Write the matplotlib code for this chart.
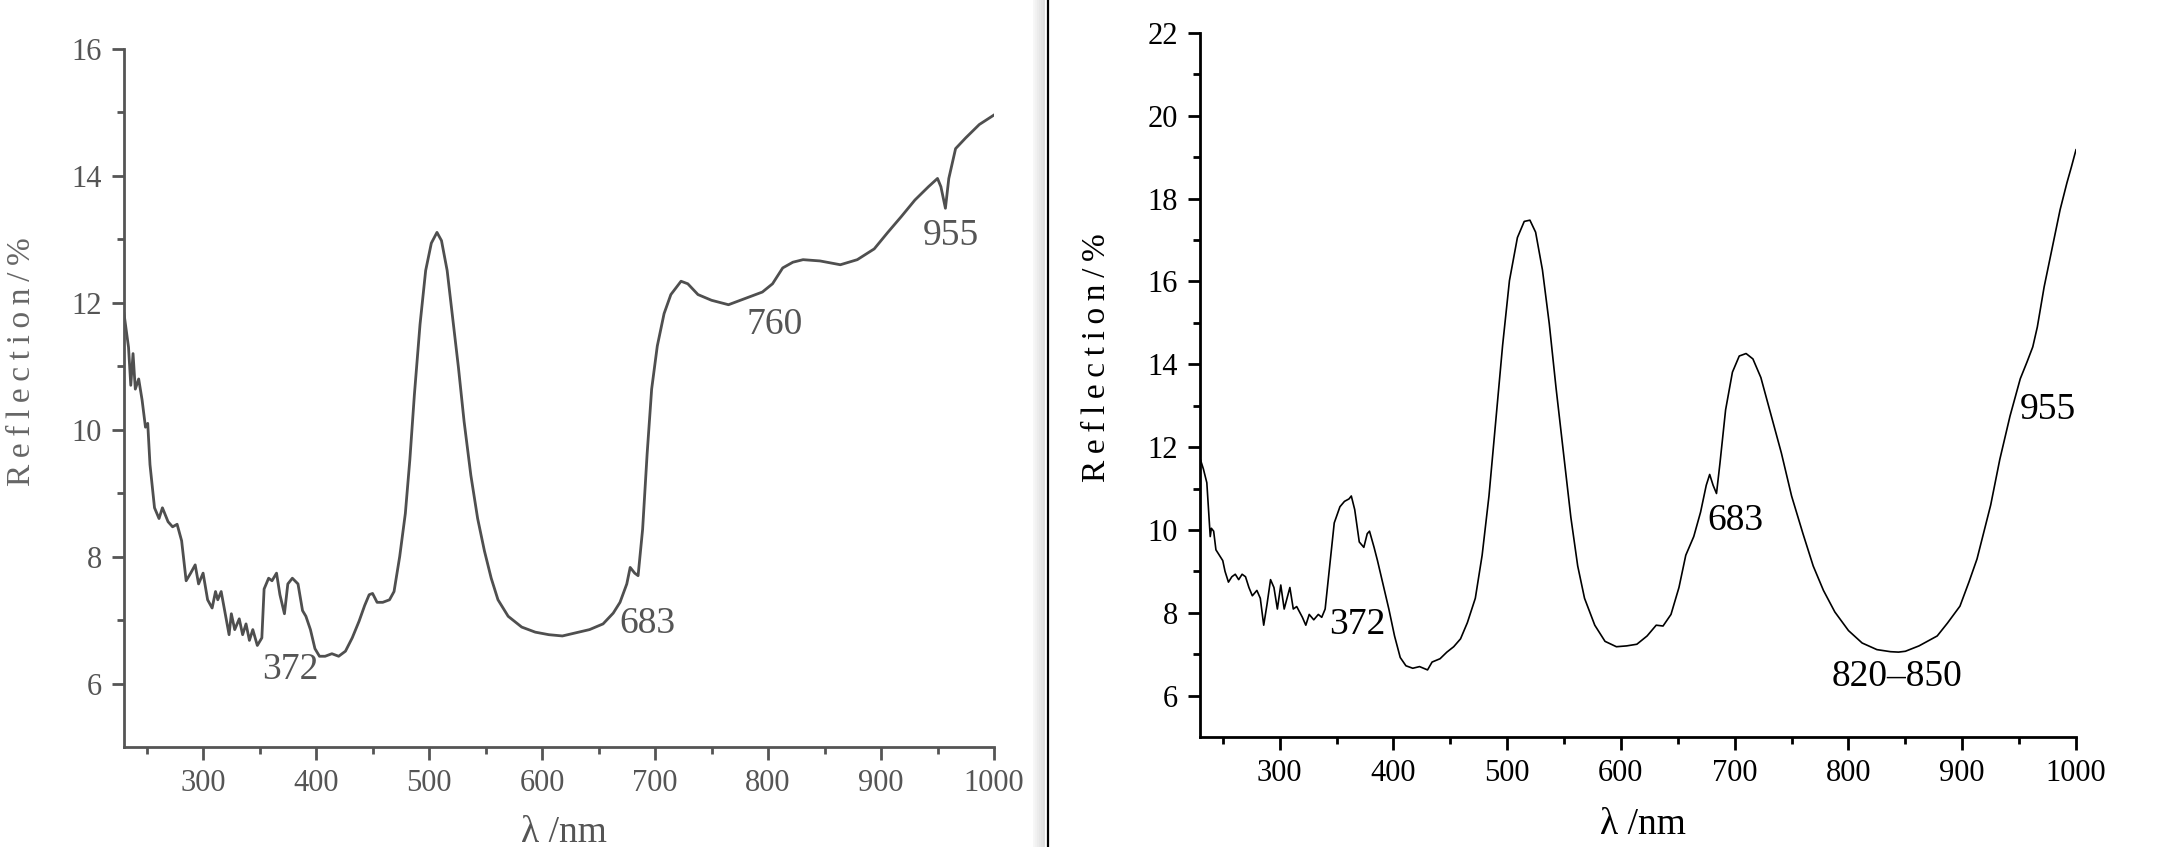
import matplotlib
matplotlib.use("Agg")
import matplotlib.pyplot as plt
from matplotlib.lines import Line2D
from matplotlib.ticker import MultipleLocator


# left spectrum (scanned, grey)
left_wl = [230, 234, 236, 238, 240, 243, 246, 249, 251, 253,
           257, 261, 264, 269, 273, 277, 281, 285, 289, 293,
           296, 300, 304, 308, 311, 313, 316, 320, 323, 325,
           328, 332, 335, 338, 341, 344, 348, 352, 354, 358,
           361, 365, 368, 372, 375, 379, 384, 388, 391, 395,
           399, 403, 408, 414, 420, 426, 432, 438, 443, 447,
           450, 454, 459, 465, 469, 474, 479, 483, 487, 492,
           497, 502, 507, 511, 516, 521, 526, 531, 537, 543,
           549, 555, 561, 570, 582, 594, 606, 618, 630, 642,
           654, 663, 669, 675, 678, 682, 685, 689, 693, 697,
           702, 708, 714, 723, 729, 738, 750, 765, 780, 795,
           804, 813, 822, 831, 846, 864, 879, 894, 906, 918,
           930, 942, 950, 953, 957, 960, 966, 975, 987, 1000]
left_refl = [11.83, 11.3, 10.7, 11.2, 10.64, 10.8, 10.47, 10.04, 10.1, 9.45,
             8.77, 8.6, 8.77, 8.55, 8.47, 8.51, 8.25, 7.62, 7.74, 7.87,
             7.57, 7.74, 7.32, 7.19, 7.45, 7.32, 7.45, 7.06, 6.77, 7.1,
             6.85, 7.02, 6.77, 6.94, 6.68, 6.85, 6.6, 6.72, 7.49, 7.66,
             7.62, 7.74, 7.4, 7.1, 7.57, 7.66, 7.57, 7.15, 7.06, 6.85,
             6.55, 6.43, 6.43, 6.47, 6.43, 6.51, 6.72, 6.98, 7.23, 7.4,
             7.42, 7.28, 7.28, 7.32, 7.45, 8.0, 8.68, 9.53, 10.55, 11.66,
             12.51, 12.94, 13.11, 12.98, 12.51, 11.74, 10.98, 10.13, 9.28, 8.6,
             8.09, 7.66, 7.32, 7.06, 6.89, 6.81, 6.77, 6.75, 6.8, 6.85,
             6.94, 7.11, 7.28, 7.57, 7.83, 7.74, 7.7, 8.43, 9.62, 10.64,
             11.32, 11.83, 12.13, 12.34, 12.3, 12.13, 12.04, 11.97, 12.07, 12.17,
             12.3, 12.55, 12.64, 12.68, 12.66, 12.6, 12.68, 12.85, 13.11, 13.36,
             13.62, 13.83, 13.96, 13.83, 13.49, 13.96, 14.43, 14.6, 14.81, 14.96]

# right spectrum (black)
right_wl = [230, 233, 236, 238, 239, 240, 242, 244, 247, 250,
            252, 255, 258, 261, 264, 267, 270, 273, 276, 280,
            283, 286, 289, 292, 295, 298, 301, 304, 309, 312,
            315, 320, 323, 326, 330, 334, 337, 340, 341, 345,
            348, 353, 357, 361, 363, 366, 370, 374, 377, 379,
            383, 386, 391, 396, 401, 406, 411, 417, 423, 430,
            434, 441, 447, 453, 459, 465, 472, 478, 484, 490,
            496, 502, 509, 515, 520, 525, 531, 537, 543, 550,
            556, 562, 568, 577, 586, 596, 605, 614, 623, 631,
            637, 644, 651, 657, 664, 670, 675, 678, 681, 684,
            687, 692, 698, 704, 710, 716, 723, 732, 741, 750,
            760, 769, 778, 788, 800, 812, 825, 837, 844, 850,
            862, 878, 887, 898, 906, 913, 919, 925, 933, 942,
            951, 957, 962, 966, 972, 980, 986, 992, 996, 1000]
right_refl = [11.73, 11.47, 11.14, 10.3, 9.84, 10.04, 9.97, 9.52, 9.39, 9.26,
              9.0, 8.74, 8.87, 8.93, 8.8, 8.93, 8.87, 8.61, 8.41, 8.54,
              8.35, 7.7, 8.22, 8.8, 8.61, 8.09, 8.67, 8.09, 8.61, 8.09,
              8.15, 7.89, 7.7, 7.96, 7.83, 7.96, 7.89, 8.09, 8.35, 9.39,
              10.17, 10.56, 10.69, 10.75, 10.82, 10.49, 9.71, 9.58, 9.91, 9.97,
              9.58, 9.26, 8.67, 8.09, 7.44, 6.92, 6.72, 6.66, 6.7, 6.62,
              6.81, 6.89, 7.05, 7.18, 7.37, 7.76, 8.35, 9.39, 10.82, 12.64,
              14.46, 16.02, 17.06, 17.45, 17.48, 17.19, 16.28, 14.98, 13.42, 11.73,
              10.3, 9.13, 8.35, 7.7, 7.31, 7.18, 7.2, 7.24, 7.44, 7.7,
              7.68, 7.96, 8.61, 9.39, 9.84, 10.43, 11.08, 11.34, 11.08, 10.88,
              11.6, 12.9, 13.81, 14.2, 14.26, 14.13, 13.68, 12.77, 11.86, 10.82,
              9.91, 9.13, 8.54, 8.02, 7.57, 7.27, 7.11, 7.06, 7.05, 7.07,
              7.2, 7.44, 7.75, 8.16, 8.75, 9.3, 9.95, 10.6, 11.7, 12.75,
              13.65, 14.06, 14.42, 14.9, 15.87, 16.93, 17.73, 18.38, 18.77, 19.18]

left_notes = ["372", "683", "760", "955"]
left_note_x = [377, 693, 806, 962]
left_note_y = [6.21, 6.94, 11.66, 13.06]

right_notes = ["372", "683", "820\u2013850", "955"]
right_note_x = [368, 701, 843, 975]
right_note_y = [7.7, 10.23, 6.46, 12.9]

SERIF = ["Liberation Serif", "DejaVu Serif"]
W, H = 2163, 847


def style_axes(ax, ymax, col):
    ax.set_xlim(230, 1000)
    ax.set_ylim(5, ymax)
    for s in ["top", "right"]:
        ax.spines[s].set_visible(False)
    for s in ["left", "bottom"]:
        ax.spines[s].set_linewidth(2.0)
        ax.spines[s].set_color(col)
    ax.xaxis.set_major_locator(MultipleLocator(100))
    ax.xaxis.set_minor_locator(MultipleLocator(50))
    ax.set_yticks(list(range(6, ymax + 1, 2)))
    ax.set_yticks(list(range(7, ymax, 2)), minor=True)
    ax.set_xticks([300, 400, 500, 600, 700, 800, 900, 1000])
    ax.tick_params(which="major", direction="out", length=9, width=2, color=col,
                   labelsize=22, labelcolor=col, pad=7)
    ax.tick_params(which="minor", direction="out", length=5, width=2, color=col)
    for lab in ax.get_xticklabels() + ax.get_yticklabels():
        lab.set_family(SERIF)


def label_text(s):
    return "\u2009".join(list(s))


fig = plt.figure(figsize=(W / 100, H / 100), dpi=100)

# left panel
ax1 = fig.add_axes([124 / W, 1 - 747 / H, 870 / W, 698 / H])
ax1.plot(left_wl, left_refl, color="#4f4f4f", lw=2.0)
style_axes(ax1, 16, "#555555")
for t, x, y in zip(left_notes, left_note_x, left_note_y):
    ax1.text(x, y, t, ha="center", va="center", fontsize=27, color="#555555", family=SERIF)

# right panel
ax2 = fig.add_axes([1200 / W, 1 - 737 / H, 876 / W, 704 / H])
ax2.plot(right_wl, right_refl, color="black", lw=1.2)
style_axes(ax2, 22, "black")
for t, x, y in zip(right_notes, right_note_x, right_note_y):
    ax2.text(x, y, t, ha="center", va="center", fontsize=27, color="black", family=SERIF)

# axis titles
fig.text(22 / W, 1 - 362 / H, label_text("Reflection/%"), rotation=90, ha="center", va="center",
         fontsize=24, color="#666666", family=SERIF)
fig.text(1097 / W, 1 - 358 / H, label_text("Reflection/%"), rotation=90, ha="center", va="center",
         fontsize=24, color="black", family=SERIF)
fig.text(564 / W, 1 - 833 / H, "\u03bb /nm", ha="center", va="center",
         fontsize=27, color="#555555", family=SERIF)
fig.text(1643 / W, 1 - 825 / H, "\u03bb /nm", ha="center", va="center",
         fontsize=27, color="black", family=SERIF)

# page edge between the two scans
for i, a in enumerate([0.03, 0.05, 0.07, 0.09, 0.11, 0.13]):
    xx = (1034 + 2 * i) / W
    fig.add_artist(Line2D([xx, xx], [0, 1], color="black", alpha=a, lw=1.5))
fig.add_artist(Line2D([1048 / W, 1048 / W], [0, 1], color="black", lw=1.6))

fig.savefig("out.png", dpi=100)
